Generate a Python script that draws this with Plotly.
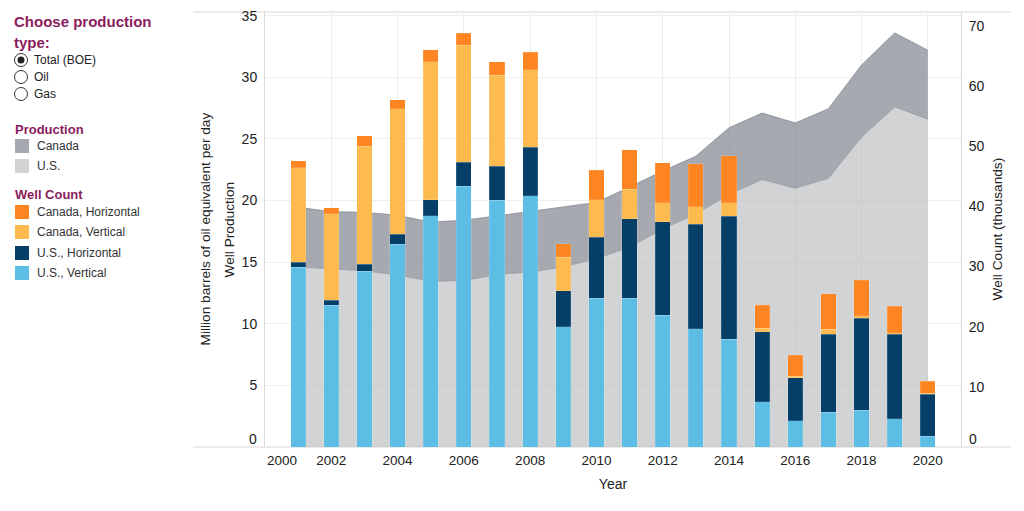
import plotly.graph_objects as go

years = list(range(2001, 2021))

# production, million barrels of oil equivalent per day
us_production = [14.6, 14.45, 14.3, 13.95, 13.45, 13.5, 14.0, 14.2, 14.6, 15.3,
                 16.2, 17.7, 18.9, 20.5, 21.7, 21.0, 21.8, 25.15, 27.6, 26.6]
canada_production = [4.85, 4.65, 4.75, 4.85, 4.8, 4.9, 4.75, 4.9, 4.85, 4.55,
                     4.9, 4.7, 4.7, 5.4, 5.4, 5.3, 5.65, 5.85, 6.0, 5.6]

# well count, thousands
us_vertical = [29.9, 23.6, 29.2, 33.7, 38.4, 43.3, 41.0, 41.75, 20.0, 24.75,
               24.75, 21.9, 19.65, 17.95, 7.5, 4.35, 5.75, 6.1, 4.7, 1.8]
us_horizontal = [0.8, 0.8, 1.15, 1.65, 2.7, 4.05, 5.7, 8.05, 5.95, 10.1,
                 13.15, 15.5, 17.4, 20.4, 11.65, 7.15, 13.0, 15.3, 14.05, 6.95]
canada_vertical = [15.7, 14.35, 19.65, 20.85, 22.95, 19.45, 15.1, 12.9, 5.6, 6.25,
                   4.9, 3.2, 2.85, 2.25, 0.55, 0.3, 0.85, 0.4, 0.25, 0.15]
canada_horizontal = [1.2, 1.0, 1.7, 1.55, 2.0, 2.0, 2.25, 2.9, 2.25, 4.9,
                     6.6, 6.65, 7.2, 7.85, 3.9, 3.45, 5.85, 5.9, 4.4, 2.05]

x_ticks = list(range(2002, 2021, 2))   # 2000 is drawn separately, pushed inside like the original
y_ticks = [5, 10, 15, 20, 25, 30, 35]
y2_ticks = [10, 20, 30, 40, 50, 60, 70]

radio_options = ["Total (BOE)", "Oil", "Gas"]
production_names = ["Canada", "U.S."]
well_names = ["Canada, Horizontal", "Canada, Vertical", "U.S., Horizontal", "U.S., Vertical"]

FONT = "Liberation Sans, Arial, sans-serif"
MAROON = "#8b1c5c"
TEXT = "#222222"
COL = {
    "Canada": "rgba(128,133,143,0.7)",
    "U.S.": "rgba(185,187,190,0.65)",
    "Canada, Horizontal": "#fe8522",
    "Canada, Vertical": "#fdbb4f",
    "U.S., Horizontal": "#053f68",
    "U.S., Vertical": "#5cbde5",
}

# plot area in pixels
L, R, T, B = 265, 961, 12, 447


def px(x):
    return (x - L) / (R - L)


def py(y):
    return (B - y) / (B - T)


fig = go.Figure()

fig.add_trace(go.Scatter(
    x=years, y=us_production, name="U.S.", stackgroup="prod", mode="lines",
    line=dict(color="rgba(140,144,150,0.6)", width=1), fillcolor=COL["U.S."],
    showlegend=False, yaxis="y"))
fig.add_trace(go.Scatter(
    x=years, y=canada_production, name="Canada", stackgroup="prod", mode="lines",
    line=dict(color="rgba(120,125,135,0.7)", width=1), fillcolor=COL["Canada"],
    showlegend=False, yaxis="y"))

for name, vals in [("U.S., Vertical", us_vertical), ("U.S., Horizontal", us_horizontal),
                   ("Canada, Vertical", canada_vertical), ("Canada, Horizontal", canada_horizontal)]:
    fig.add_trace(go.Bar(
        x=years, y=vals, name=name, yaxis="y2", width=0.46,
        marker=dict(color=COL[name], line=dict(color="rgba(255,255,255,0.25)", width=0.6)),
        showlegend=False))

annotations = [
    dict(text="Million barrels of oil equivalent per day", x=px(205), y=py(229.5),
         xanchor="center", textangle=-90, font=dict(size=13.7, color=TEXT)),
    dict(text="Well Production", x=px(229), y=py(229.5),
         xanchor="center", textangle=-90, font=dict(size=13.7, color=TEXT)),
    dict(text="Well Count (thousands)", x=px(997), y=py(229.5),
         xanchor="center", textangle=-90, font=dict(size=13.7, color=TEXT)),
    dict(text="<b>Choose production</b>", x=px(12), y=py(22), xanchor="left",
         font=dict(size=15, color=MAROON)),
    dict(text="<b>type:</b>", x=px(12), y=py(42), xanchor="left",
         font=dict(size=15, color=MAROON)),
    dict(text="<b>Production</b>", x=px(13), y=py(129), xanchor="left",
         font=dict(size=13, color=MAROON)),
    dict(text="<b>Well Count</b>", x=px(13), y=py(194), xanchor="left",
         font=dict(size=13, color=MAROON)),
    # first tick labels, nudged off the corner as in the original
    dict(text="2000", x=2000, xref="x", y=py(461), xanchor="left",
         font=dict(size=13.5, color=TEXT)),
    dict(text="0", x=px(259), y=py(439), xanchor="right",
         font=dict(size=14, color=TEXT)),
    dict(text="0", x=px(967), y=py(439), xanchor="left",
         font=dict(size=14, color=TEXT)),
]
shapes = []

for i, opt in enumerate(radio_options):
    yc = 60 + 17 * i
    annotations.append(dict(text=opt, x=px(32), y=py(yc), xanchor="left",
                            font=dict(size=12, color=TEXT)))
    shapes.append(dict(type="circle", xref="paper", yref="paper",
                       x0=px(14.5), x1=px(27.5), y0=py(yc + 6.5), y1=py(yc - 6.5),
                       line=dict(color="#333333", width=1), fillcolor="white"))
    if i == 0:
        shapes.append(dict(type="circle", xref="paper", yref="paper",
                           x0=px(17.5), x1=px(24.5), y0=py(yc + 3.5), y1=py(yc - 3.5),
                           line=dict(width=0), fillcolor="#222222"))

legend_rows = [(production_names, [146, 166]), (well_names, [212, 232, 253, 273])]
for names, ys in legend_rows:
    for name, yc in zip(names, ys):
        annotations.append(dict(text=name, x=px(35), y=py(yc), xanchor="left",
                                font=dict(size=12, color="#333333")))
        shapes.append(dict(type="rect", xref="paper", yref="paper",
                           x0=px(15), x1=px(29), y0=py(yc + 7), y1=py(yc - 7),
                           line=dict(width=0), fillcolor=COL[name]))

# frame lines extending past the plot area
for yy in (0, 1):
    shapes.append(dict(type="line", xref="paper", yref="paper",
                       x0=px(193), x1=px(1011), y0=yy, y1=yy,
                       line=dict(color="#d8d8d8", width=1), layer="below"))

for a in annotations:
    a.setdefault("xref", "paper")
    a.setdefault("yref", "paper")
    a.setdefault("showarrow", False)
    a.setdefault("yanchor", "middle")

fig.update_layout(
    width=1024, height=511,
    margin=dict(l=L, r=1024 - R, t=T, b=511 - B, autoexpand=False),
    barmode="stack",
    plot_bgcolor="white", paper_bgcolor="white",
    font=dict(family=FONT, size=14, color=TEXT),
    showlegend=False,
    xaxis=dict(range=[2000, 2021], tickmode="array", tickvals=x_ticks,
               showgrid=True, gridcolor="#ececec", gridwidth=1,
               showline=False, zeroline=False, ticks="", ticklabelstandoff=3,
               tickfont=dict(size=13.5, color=TEXT),
               title=dict(text="Year", font=dict(size=14, color=TEXT), standoff=12)),
    yaxis=dict(range=[0, 35.3], tickmode="array", tickvals=y_ticks,
               showgrid=True, gridcolor="#eeeeee", gridwidth=1,
               showline=True, linecolor="#d8d8d8", linewidth=1, zeroline=False,
               ticks="", ticklabelstandoff=4, tickfont=dict(size=14, color=TEXT)),
    yaxis2=dict(range=[0, 72.3], tickmode="array", tickvals=y2_ticks,
                overlaying="y", side="right", showgrid=False,
                showline=True, linecolor="#d8d8d8", linewidth=1, zeroline=False,
                ticks="", ticklabelstandoff=4, tickfont=dict(size=14, color=TEXT)),
    annotations=annotations,
    shapes=shapes,
)

fig.write_html("out.html", config={"displayModeBar": False},
               post_script="document.body.style.margin='0';")
